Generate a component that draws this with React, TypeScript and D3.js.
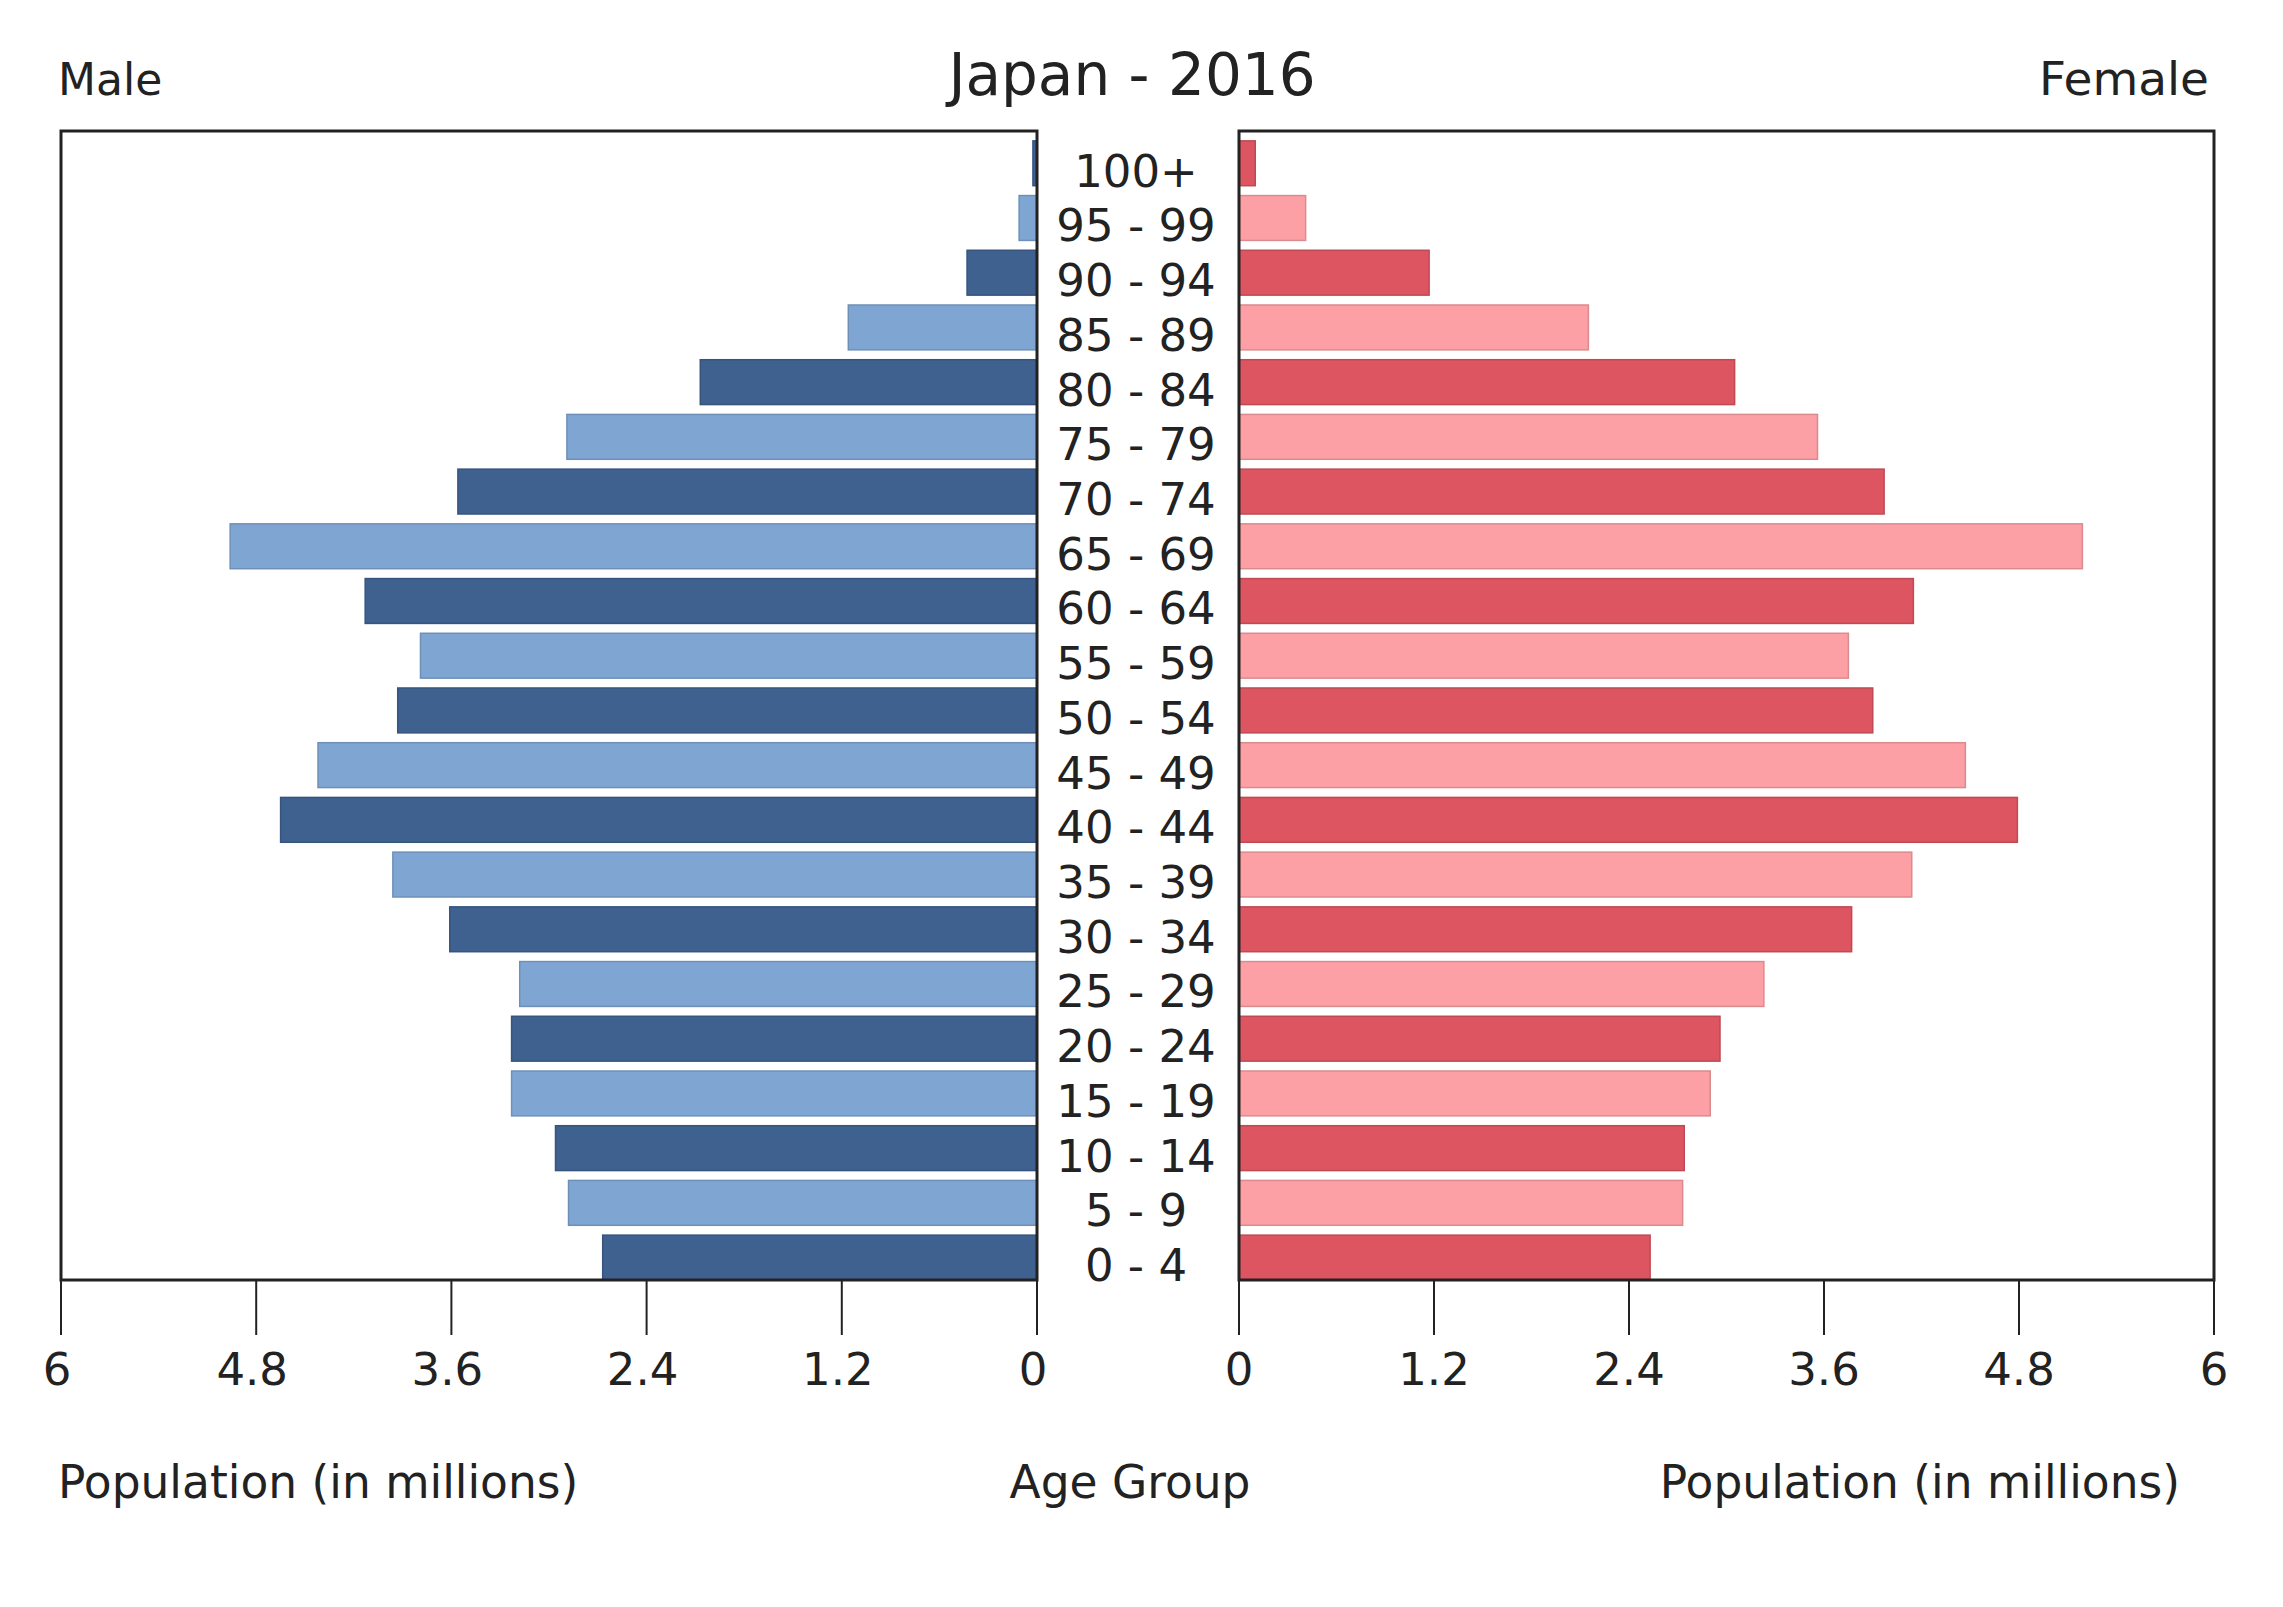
import React from "react";
import * as d3 from "d3";

const ageGroups = ["100+", "95 - 99", "90 - 94", "85 - 89", "80 - 84", "75 - 79", "70 - 74", "65 - 69", "60 - 64", "55 - 59", "50 - 54", "45 - 49", "40 - 44", "35 - 39", "30 - 34", "25 - 29", "20 - 24", "15 - 19", "10 - 14", "5 - 9", "0 - 4"];
const maleValues = [0.025, 0.11, 0.43, 1.16, 2.07, 2.89, 3.56, 4.96, 4.13, 3.79, 3.93, 4.42, 4.65, 3.96, 3.61, 3.18, 3.23, 3.23, 2.96, 2.88, 2.67];
const femaleValues = [0.1, 0.41, 1.17, 2.15, 3.05, 3.56, 3.97, 5.19, 4.15, 3.75, 3.9, 4.47, 4.79, 4.14, 3.77, 3.23, 2.96, 2.9, 2.74, 2.73, 2.53];
const tickValues = [0, 1.2, 2.4, 3.6, 4.8, 6];
const maleColors = ["#3f6190", "#7fa6d3"];
const femaleColors = ["#dc5560", "#fca0a5"];

const W = 2283;
const H = 1607;
const FONT = "'DejaVu Sans', Verdana, sans-serif";

export default function App() {
  const top = 131;
  const bottom = 1280;
  const leftX0 = 61, leftX1 = 1037;
  const rightX0 = 1239, rightX1 = 2214;

  const xL = d3.scaleLinear().domain([0, 6]).range([leftX1, leftX0]);
  const xR = d3.scaleLinear().domain([0, 6]).range([rightX0, rightX1]);
  const y = d3.scaleBand<string>().domain(ageGroups).range([top, bottom]).paddingInner(0).paddingOuter(0);
  const bw = y.bandwidth();
  const barH = bw * 0.82;
  const barTop = (g: string) => (y(g) as number) + bw - barH;
  const midX = (leftX1 + rightX0) / 2;

  return (
    <svg width={W} height={H} style={{ position: "absolute", left: 0, top: 0, background: "#fff" }} fontFamily={FONT}>
      <rect x={0} y={0} width={W} height={H} fill="#fff" />
      {/* titles */}
      <text x={midX - 6} y={95} fontSize={58} textAnchor="middle" fill="#222">Japan - 2016</text>
      <text x={58} y={95} fontSize={44} fill="#222">Male</text>
      <text x={2209} y={95} fontSize={47} textAnchor="end" fill="#222">Female</text>

      {/* male bars */}
      {ageGroups.map((g, i) => (
        <rect key={"m" + g} x={xL(maleValues[i])} y={barTop(g)} width={xL(0) - xL(maleValues[i])} height={barH}
          fill={maleColors[i % 2]} stroke={d3.color(maleColors[i % 2])!.darker(0.4).toString()} strokeWidth={1.5} />
      ))}
      {/* female bars */}
      {ageGroups.map((g, i) => (
        <rect key={"f" + g} x={xR(0)} y={barTop(g)} width={xR(femaleValues[i]) - xR(0)} height={barH}
          fill={femaleColors[i % 2]} stroke={d3.color(femaleColors[i % 2])!.darker(0.4).toString()} strokeWidth={1.5} />
      ))}

      {/* frames */}
      <rect x={leftX0} y={top} width={leftX1 - leftX0} height={bottom - top} fill="none" stroke="#222" strokeWidth={3} />
      <rect x={rightX0} y={top} width={rightX1 - rightX0} height={bottom - top} fill="none" stroke="#222" strokeWidth={3} />

      {/* age labels */}
      {ageGroups.map((g) => (
        <text key={"l" + g} x={midX - 2} y={barTop(g) + barH / 2 + 8} fontSize={45} textAnchor="middle" dominantBaseline="central" fill="#222">{g}</text>
      ))}

      {/* ticks */}
      {tickValues.map((t) => (
        <g key={"tl" + t}>
          <line x1={xL(t)} x2={xL(t)} y1={bottom} y2={bottom + 55} stroke="#222" strokeWidth={2} />
          <text x={xL(t) - 4} y={1385} fontSize={45} textAnchor="middle" fill="#222">{String(t)}</text>
        </g>
      ))}
      {tickValues.map((t) => (
        <g key={"tr" + t}>
          <line x1={xR(t)} x2={xR(t)} y1={bottom} y2={bottom + 55} stroke="#222" strokeWidth={2} />
          <text x={xR(t)} y={1385} fontSize={45} textAnchor="middle" fill="#222">{String(t)}</text>
        </g>
      ))}

      {/* axis titles */}
      <text x={58} y={1498} fontSize={45.5} fill="#222">Population (in millions)</text>
      <text x={midX - 8} y={1498} fontSize={45.5} textAnchor="middle" fill="#222">Age Group</text>
      <text x={2180} y={1498} fontSize={45.5} textAnchor="end" fill="#222">Population (in millions)</text>
    </svg>
  );
}
